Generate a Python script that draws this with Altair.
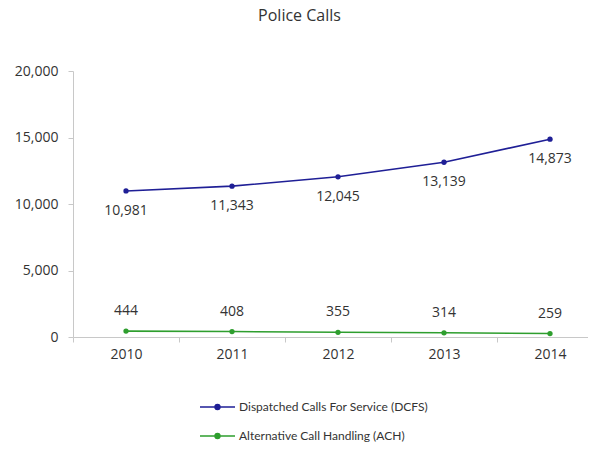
import altair as alt
import pandas as pd

years = ["2010", "2011", "2012", "2013", "2014"]
dcfs = [10981, 11343, 12045, 13139, 14873]
ach = [444, 408, 355, 314, 259]
series_names = ["Dispatched Calls For Service (DCFS)", "Alternative Call Handling (ACH)"]
series_colors = ["#1f1f96", "#2e9e2e"]

rows = []
for y, v in zip(years, dcfs):
    rows.append({"year": y, "value": v, "series": series_names[0], "pos": "below"})
for y, v in zip(years, ach):
    rows.append({"year": y, "value": v, "series": series_names[1], "pos": "above"})
df = pd.DataFrame(rows)

FONT = "Open Sans"

x = alt.X("year:O", title=None,
          scale=alt.Scale(range=[0, 530], paddingInner=0, paddingOuter=0),
          axis=alt.Axis(labelAngle=0, tickBand="extent", domainColor="#c8c8c8",
                        tickColor="#c8c8c8", tickSize=5, labelPadding=5,
                        labelFontSize=14, labelColor="#333333", labelFont=FONT, grid=False))
y = alt.Y("value:Q", title=None,
          scale=alt.Scale(domain=[0, 20000], nice=False),
          axis=alt.Axis(values=[0, 5000, 10000, 15000, 20000],
                        labelExpr="format(datum.value, ',')",
                        domainColor="#c8c8c8", tickColor="#c8c8c8", tickSize=5,
                        labelPadding=10, labelFontSize=14, labelColor="#333333",
                        labelFont=FONT, grid=False))
color = alt.Color("series:N",
                  scale=alt.Scale(domain=series_names, range=series_colors),
                  legend=alt.Legend(title=None, orient="none", legendX=126, legendY=328,
                                    direction="vertical", rowPadding=13, labelLimit=0,
                                    clipHeight=16,
                                    labelFontSize=12, labelColor="#333333", labelFont="Lato",
                                    symbolType="M-1,0L1,0M-0.14,0A0.14,0.14 0 1,0 0.14,0A0.14,0.14 0 1,0 -0.14,0Z",
                                    symbolSize=1225, symbolStrokeWidth=1.5, labelOffset=3))

base = alt.Chart(df).encode(x=x, y=y, color=color)
line = base.mark_line(strokeWidth=1.6)
pts = base.mark_point(filled=True, size=28, opacity=1)
lab_below = alt.Chart(df).transform_filter(alt.datum.pos == "below").mark_text(
    dy=20, fontSize=14, font=FONT, color="#333333").encode(
    x=x, y=y, text=alt.Text("value:Q", format=","))
lab_above = alt.Chart(df).transform_filter(alt.datum.pos == "above").mark_text(
    dy=-20, fontSize=14, font=FONT, color="#333333").encode(
    x=x, y=y, text=alt.Text("value:Q", format=","))

chart = alt.layer(line, pts, lab_below, lab_above).properties(
    width=515, height=266,
    title=alt.TitleParams("Police Calls", fontSize=16, font=FONT, fontWeight="normal",
                          color="#333333", anchor="middle", dx=-31, offset=40),
    autosize=alt.AutoSizeParams(type="none"),
    padding={"left": 65, "top": 63, "right": 0, "bottom": 110},
).configure_view(stroke=None)

chart.save("out.html", embed_options={"renderer": "svg", "actions": False})
